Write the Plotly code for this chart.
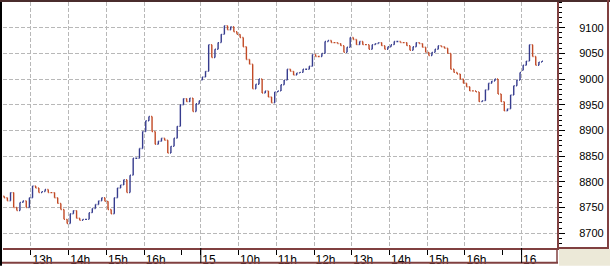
import plotly.graph_objects as go

# ---------------- data (5-minute bars, closes) ----------------
session_start_clock = [12.25, 9.0, 9.0]      # clock hour of the first bar of each day
session_axis_offset = [0.0, 8.5, 17.0]       # axis position of 9:00 for each day (trading hours)
bar_minutes = 5
session_open = [8772, 8998, 9017]            # open of first bar of each day

day14_close = [8769, 8763, 8779, 8750, 8744, 8760, 8763, 8750, 8769, 8792,
               8788, 8779, 8781, 8785, 8779, 8779, 8769, 8758, 8746, 8727,
               8719, 8738, 8744, 8729, 8725, 8727, 8727, 8740, 8748, 8756,
               8763, 8769, 8762, 8746, 8738, 8769, 8788, 8794, 8804, 8779,
               8813, 8846, 8846, 8865, 8898, 8919, 8927, 8898, 8873, 8879,
               8885, 8881, 8856, 8869, 8885, 8908, 8950, 8962, 8956, 8963,
               8937, 8952, 8958]

day15_close = [9004, 9015, 9067, 9042, 9058, 9071, 9087, 9104, 9096, 9102,
               9092, 9087, 9081, 9063, 9038, 9029, 8981, 8990, 9000, 8973,
               8977, 8965, 8954, 8975, 8977, 8989, 8998, 9019, 9015, 9008,
               9012, 9013, 9019, 9019, 9025, 9048, 9044, 9044, 9050, 9073,
               9075, 9071, 9071, 9069, 9065, 9052, 9062, 9081, 9077, 9067,
               9073, 9067, 9067, 9058, 9067, 9069, 9071, 9065, 9058, 9063,
               9067, 9073, 9073, 9071, 9071, 9065, 9056, 9063, 9071, 9069,
               9062, 9052, 9046, 9052, 9058, 9065, 9063, 9060, 9050, 9019,
               9013, 9010, 9000, 8992, 8985, 8977, 8977, 8975, 8956, 8958,
               8979, 8992, 8996, 9000, 8971, 8956, 8938, 8942, 8969, 8987,
               8998, 9013]

day16_close = [9027, 9035, 9067, 9044, 9027, 9033, 9035]

hour_tick_pos = [4, 5, 6, 7, 8.5, 9.5, 10.5, 11.5, 12.5, 13.5, 14.5, 15.5, 17]
hour_tick_text = ["13h", "14h", "15h", "16h", "15", "10h", "11h", "12h",
                  "13h", "14h", "15h", "16h", "16"]
minor_tick_pos = [8, 16.5]
day_sep_pos = [8.5, 17]
y_tick_vals = [8700, 8750, 8800, 8850, 8900, 8950, 9000, 9050, 9100]

# ---------------- build bars ----------------
xs, o, h, l, c = [], [], [], [], []
for closes, clock0, off, op in zip([day14_close, day15_close, day16_close],
                                   session_start_clock, session_axis_offset, session_open):
    prev = op
    for i, cl in enumerate(closes):
        xs.append(off + (clock0 - 9.0) + (i + 0.5) * bar_minutes / 60.0)
        o.append(prev)
        c.append(cl)
        h.append(max(prev, cl))
        l.append(min(prev, cl))
        prev = cl

BLUE = "#363C8E"
RED = "#C24A26"
MAROON = "#804040"
GRID = "#B8B8B8"

fig = go.Figure()
fig.add_trace(go.Ohlc(
    x=xs, open=o, high=h, low=l, close=c,
    increasing=dict(line=dict(color=BLUE, width=1.4)),
    decreasing=dict(line=dict(color=RED, width=1.4)),
    tickwidth=0.3, hoverinfo="skip", showlegend=False,
))

W, H = 610, 269
ML, MR, MT, MB = 3, 53, 2, 18
PW, PH = W - ML - MR, H - MT - MB

def px(xp):
    return (xp - ML) / PW

def py(yp):
    return (H - MB - yp) / PH

shapes = [
    # left dark edge
    dict(type="rect", xref="paper", yref="paper", x0=px(0), x1=px(2), y0=py(269), y1=py(0),
         fillcolor="#000000", line=dict(width=0), layer="above"),
    # top dark edge
    dict(type="rect", xref="paper", yref="paper", x0=px(0), x1=px(610), y0=py(2), y1=py(0),
         fillcolor="#4A2C2C", line=dict(width=0), layer="above"),
    # x label strip bottom and right
    dict(type="line", xref="paper", yref="paper", x0=px(2), x1=px(558), y0=py(266), y1=py(266),
         line=dict(color=MAROON, width=2), layer="above"),
    dict(type="line", xref="paper", yref="paper", x0=1, x1=1, y0=0, y1=py(266),
         line=dict(color=MAROON, width=1.5), layer="above"),
    # right panel borders
    dict(type="line", xref="paper", yref="paper", x0=px(608), x1=px(608), y0=0, y1=py(0),
         line=dict(color=MAROON, width=2), layer="above"),
    dict(type="line", xref="paper", yref="paper", x0=1, x1=px(609), y0=0, y1=0,
         line=dict(color=MAROON, width=2), layer="above"),
    # beige corner
    dict(type="rect", xref="paper", yref="paper", x0=px(559), x1=px(610), y0=py(269), y1=py(252),
         fillcolor="#ECE9D8", line=dict(width=0), layer="above"),
]
for d in day_sep_pos:
    shapes.append(dict(type="line", xref="x", yref="paper", x0=d, x1=d, y0=0, y1=py(266),
                       line=dict(color="#000000", width=1), layer="above"))

fig.update_layout(
    width=W, height=H,
    margin=dict(l=ML, r=MR, t=MT, b=MB, pad=0),
    paper_bgcolor="white", plot_bgcolor="white",
    font=dict(family="Liberation Sans, Arial, sans-serif", color="#000000"),
    shapes=shapes,
    xaxis=dict(
        range=[3.259, 17.938], rangeslider=dict(visible=False),
        tickmode="array", tickvals=hour_tick_pos, ticktext=hour_tick_text,
        ticks="outside", ticklen=5, tickwidth=1, tickcolor="#000000",
        ticklabelposition="outside right", tickfont=dict(size=12),
        showgrid=True, gridcolor=GRID, griddash="4px,2px", gridwidth=1,
        showline=True, linecolor=MAROON, linewidth=2, zeroline=False,
        minor=dict(tickmode="array", tickvals=minor_tick_pos, ticks="outside",
                   ticklen=5, tickcolor="#000000", showgrid=False),
    ),
    yaxis=dict(
        range=[8671.2, 9150], side="right",
        tickmode="array", tickvals=y_tick_vals,
        ticks="outside", ticklen=6, tickwidth=1, tickcolor="#000000",
        tickfont=dict(size=11), ticklabelstandoff=12,
        showgrid=True, gridcolor=GRID, griddash="4px,2px", gridwidth=1,
        showline=True, linecolor=MAROON, linewidth=2, zeroline=False,
        minor=dict(dtick=10, ticks="outside", ticklen=3, tickcolor="#000000", showgrid=False),
    ),
)

fig.write_html("out.html")
